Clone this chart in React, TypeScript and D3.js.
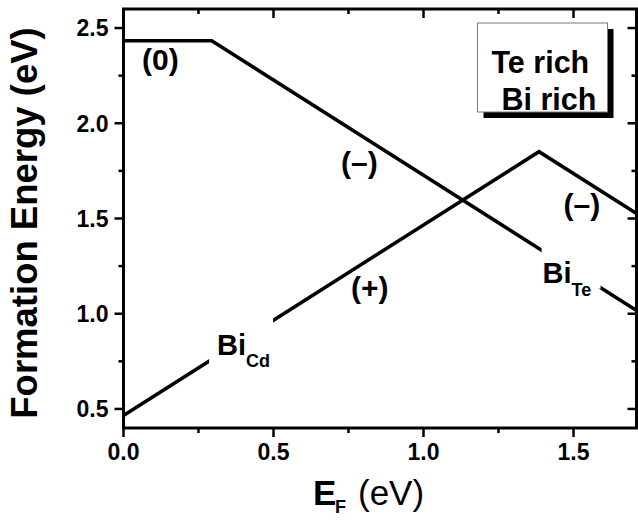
import React from 'react'
import * as d3 from 'd3'

const width = 638;
const height = 520;
const margin = { top: 9, right: 1.5, bottom: 92, left: 123.5 };

// Fermi level (eV) and formation energy (eV) at the kinks of each defect line
const biCdE = [0, 1.385, 1.71];
const biCdH = [0.466, 1.851, 1.526];
const biTeE = [0, 0.294, 1.71];
const biTeH = [2.433, 2.433, 1.017];

const xMajor = [0, 0.5, 1.0, 1.5];
const xMinor = [0.25, 0.75, 1.25];
const yMajor = [0.5, 1.0, 1.5, 2.0, 2.5];
const yMinor = [0.75, 1.25, 1.75, 2.25];

// charge state labels: [text, E, H]
const chargeLabels: [string, number, number][] = [
  ['(0)', 0.062, 2.28],
  ['(\u2013)', 0.725, 1.739],
  ['(\u2013)', 1.467, 1.519],
  ['(+)', 0.758, 1.083],
];
// defect names: [main, sub, E, H]
const defectLabels: [string, string, number, number][] = [
  ['Bi', 'Cd', 0.312, 0.785],
  ['Bi', 'Te', 1.397, 1.163],
];
const legendLines = ['Te rich', 'Bi rich'];

const font = "'Liberation Sans', Arial, Helvetica, sans-serif";

const xScale = d3.scaleLinear().domain([0, 1.71]).range([margin.left, width - margin.right]);
const yScale = d3.scaleLinear().domain([0.4, 2.6]).range([height - margin.bottom, margin.top]);

const line = d3.line<[number, number]>()
  .x(d => xScale(d[0]))
  .y(d => yScale(d[1]));

export default function App() {
  const x0 = xScale.range()[0], x1 = xScale.range()[1];
  const y0 = yScale.range()[0], y1 = yScale.range()[1];
  const cd = biCdE.map((e, i) => [e, biCdH[i]] as [number, number]);
  const te = biTeE.map((e, i) => [e, biTeH[i]] as [number, number]);
  const major = 9, minor = 5;

  return (
    <svg width={width} height={height} style={{ position: 'absolute', left: 0, top: 0, background: '#fff' }}
      fontFamily={font}>
      {/* data lines */}
      <path d={line(te) || ''} fill="none" stroke="#000" strokeWidth={3.5} />
      <path d={line(cd) || ''} fill="none" stroke="#000" strokeWidth={3.5} />

      {/* defect labels knock the line out behind them */}
      {defectLabels.map(([m, s, e, h], i) => (
        <g key={'d' + i} transform={`translate(${xScale(e)},${yScale(h)})`}>
          <rect x={i === 0 ? -8 : -1} y={i === 0 ? -37 : -36} width={i === 0 ? 64 : 59} height={i === 0 ? 48 : 42} fill="#fff" />
          <text fontSize={29} fontWeight="bold">
            {m}
            <tspan fontSize={18} dy={i === 0 ? 12 : 13}>{s}</tspan>
          </text>
        </g>
      ))}

      {chargeLabels.map(([t, e, h], i) => (
        <text key={'c' + i} x={xScale(e)} y={yScale(h)} fontSize={30} fontWeight="bold">{t}</text>
      ))}

      {/* legend box */}
      <g transform={`translate(${x1 - 159},${y1 + 14})`}>
        <rect x={6} y={6} width={130} height={89} fill="#000" />
        <rect x={0} y={0} width={130} height={89} fill="#fff" stroke="#777" strokeWidth={1} />
        {legendLines.map((t, i) => (
          <text key={t} x={i === 0 ? 14 : 24} y={i === 0 ? 50 : 87} fontSize={30.5} fontWeight="bold">{t}</text>
        ))}
      </g>

      {/* frame */}
      <rect x={x0} y={y1} width={x1 - x0} height={y0 - y1} fill="none" stroke="#000" strokeWidth={3} />

      {/* x ticks: bottom outward, top inward */}
      {xMajor.map(v => (
        <g key={'xM' + v}>
          <line x1={xScale(v)} x2={xScale(v)} y1={y0} y2={y0 + major} stroke="#000" strokeWidth={2.5} />
          <line x1={xScale(v)} x2={xScale(v)} y1={y1} y2={y1 + major} stroke="#000" strokeWidth={2.5} />
          <text x={xScale(v)} y={y0 + 32} textAnchor="middle" fontSize={23} fontWeight="bold">{d3.format('.1f')(v)}</text>
        </g>
      ))}
      {xMinor.map(v => (
        <g key={'xm' + v}>
          <line x1={xScale(v)} x2={xScale(v)} y1={y0} y2={y0 + minor} stroke="#000" strokeWidth={2.5} />
          <line x1={xScale(v)} x2={xScale(v)} y1={y1} y2={y1 + minor} stroke="#000" strokeWidth={2.5} />
        </g>
      ))}

      {/* y ticks: left outward, right inward */}
      {yMajor.map(v => (
        <g key={'yM' + v}>
          <line x1={x0 - major} x2={x0} y1={yScale(v)} y2={yScale(v)} stroke="#000" strokeWidth={2.5} />
          <line x1={x1 - major} x2={x1} y1={yScale(v)} y2={yScale(v)} stroke="#000" strokeWidth={2.5} />
          <text x={x0 - 15} y={yScale(v)} dy="0.36em" textAnchor="end" fontSize={23} fontWeight="bold">{d3.format('.1f')(v)}</text>
        </g>
      ))}
      {yMinor.map(v => (
        <g key={'ym' + v}>
          <line x1={x0 - minor} x2={x0} y1={yScale(v)} y2={yScale(v)} stroke="#000" strokeWidth={2.5} />
          <line x1={x1 - minor} x2={x1} y1={yScale(v)} y2={yScale(v)} stroke="#000" strokeWidth={2.5} />
        </g>
      ))}

      {/* axis titles */}
      <text x={313} y={505} fontSize={35} fontWeight="bold">
        E
        <tspan x={335} dy={8} fontSize={18}>F</tspan>
        <tspan x={358} dy={-8} fontWeight="normal" fontSize={35}>(eV)</tspan>
      </text>
      <text transform={`translate(37,223) rotate(-90)`} textAnchor="middle" fontSize={36.5} fontWeight="bold">
        Formation Energy (eV)
      </text>
    </svg>
  )
}
